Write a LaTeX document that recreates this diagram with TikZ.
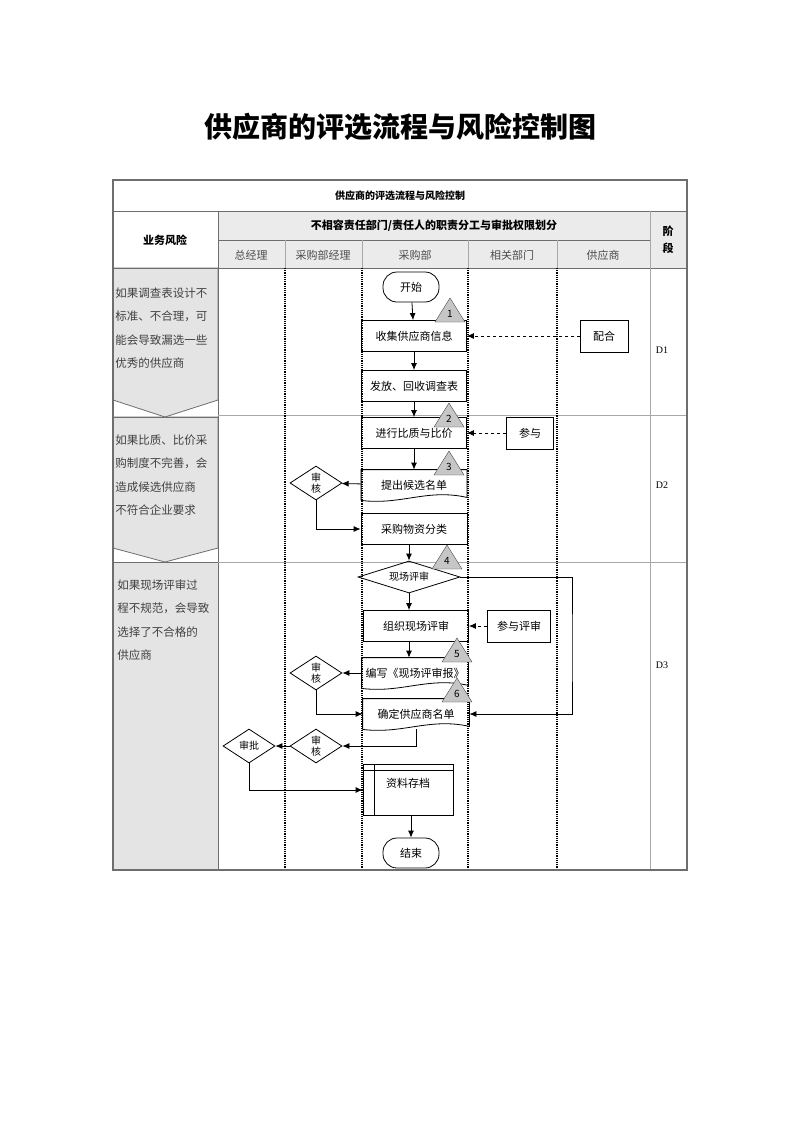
\documentclass[tikz,border=0pt]{standalone}
\usepackage{fontspec}
\setmainfont{Noto Sans CJK SC}
\newfontfamily\dfont{Liberation Serif}
\usetikzlibrary{arrows.meta,shapes.geometric}

\definecolor{cellgray}{HTML}{E4E4E4}
\definecolor{headgray}{HTML}{EBEBEB}
\definecolor{framegray}{HTML}{6E6E6E}
\definecolor{rulegray}{HTML}{A8A8A8}
\definecolor{markgray}{HTML}{C6C6C6}

\begin{document}
\begin{tikzpicture}[x=1pt,y=-1pt,>={Latex[length=7pt,width=6pt]},thick,
    box node/.style={rectangle,draw,inner sep=1pt,minimum width=105pt,minimum height=31pt,font=\fontsize{11}{13}\selectfont},
    doc node/.style={rectangle,inner sep=1pt,minimum width=105pt,minimum height=30pt,font=\fontsize{11}{13}\selectfont},
    end node/.style={rectangle,draw,rounded corners=14pt,minimum width=56pt,minimum height=30pt,font=\fontsize{11}{13}\selectfont},
    check node/.style={diamond,draw,aspect=1.5,inner sep=0pt,minimum width=52pt,minimum height=34pt,align=center,font=\fontsize{10}{11}\selectfont},
    risk text/.style={text width=104pt,align=left,inner sep=0pt,anchor=north west,text=black!75,font=\fontsize{11.5}{23.5}\selectfont},
    head text/.style={text=black!70,font=\fontsize{11}{13}\selectfont},
    mark tri/.style={draw=black!70,fill=markgray,thin},
    lane/.style={densely dotted,line width=1.2pt},
    rule/.style={rulegray,line width=0.8pt}]

  \useasboundingbox (0,0) rectangle (800,1130);

  % title
  \node[font=\bfseries\fontsize{28}{30}\selectfont] (title) at (400,127) {供应商的评选流程与风险控制图};

  % table frame
  \fill[headgray] (218,211) rectangle (687,268);
  \filldraw[fill=cellgray,draw=framegray] (113,268) -- (218,268) -- (218,400) -- (165,417) -- (113,400) -- cycle;
  \filldraw[fill=cellgray,draw=framegray] (113,417) -- (218,417) -- (218,548) -- (165,562) -- (113,548) -- cycle;
  \filldraw[fill=cellgray,draw=framegray] (113,562) rectangle (218,870);
  \draw[framegray] (113,268) rectangle (218,417);
  \draw[framegray] (113,417) rectangle (218,562);
  \draw[framegray] (113,211) -- (687,211);
  \draw[framegray] (113,268) -- (687,268);
  \draw[framegray] (218,240) -- (650,240);
  \draw[framegray] (218,211) -- (218,870);
  \draw[rule] (650,211) -- (650,870);
  \foreach \x in {285,362,468,557}
    \draw[rule] (\x,240) -- (\x,268);
  \draw[rule] (218,415) -- (687,415);
  \draw[rule] (218,562) -- (687,562);
  \foreach \x in {285,362,468,557}
    \draw[lane] (\x,268) -- (\x,870);
  \draw[framegray,line width=1.2pt] (113,180) rectangle (687,870);

  % header texts
  \node[font=\bfseries\fontsize{10}{12}\selectfont] (tbltitle) at (400,196) {供应商的评选流程与风险控制};
  \node[font=\bfseries\fontsize{11}{13}\selectfont] (duty) at (434,226) {不相容责任部门/责任人的职责分工与审批权限划分};
  \node[font=\bfseries\fontsize{11}{13}\selectfont] (risk) at (165,240) {业务风险};
  \node[align=center,font=\bfseries\fontsize{11}{17}\selectfont] (phase) at (668,240) {阶\\段};
  \foreach \x/\t [count=\i] in {251/总经理,323/采购部经理,415/采购部,512/相关部门,603/供应商}
    \node[head text] (col\i) at (\x,255) {\t};

  % risks and phases
  \node[risk text] (risk1) at (115,287) {如果调查表设计不\\标准、不合理，可\\能会导致漏选一些\\优秀的供应商};
  \node[risk text] (risk2) at (115,434) {如果比质、比价采\\购制度不完善，会\\造成候选供应商\\不符合企业要求};
  \node[risk text] (risk3) at (117,579) {如果现场评审过\\程不规范，会导致\\选择了不合格的\\供应商};
  \node[font=\dfont\fontsize{10}{12}\selectfont] (d1) at (662,350) {D1};
  \node[font=\dfont\fontsize{10}{12}\selectfont] (d2) at (662,485) {D2};
  \node[font=\dfont\fontsize{10}{12}\selectfont] (d3) at (662,665) {D3};

  % flow
  \node[end node] (start) at (411,287) {开始};
  \node[box node] (collect) at (414,336) {收集供应商信息};
  \node[box node,minimum width=48pt,minimum height=32pt,node distance=190pt] (offer) [right of=collect] {配合};
  \node[box node] (issue) at (414,386) {发放、回收调查表};
  \node[box node] (compare) at (414,433) {进行比质与比价};
  \node[box node,minimum width=47pt,minimum height=32pt,node distance=116pt] (join) [right of=compare] {参与};
  \node[doc node] (propose) at (414,485) {提出候选名单};
  \node[check node] (check1) at (316,483) {审\\核};
  \node[box node,minimum width=106pt] (classify) at (414,529) {采购物资分类};
  \node[check node,aspect=3.2,minimum width=102pt,minimum height=32pt] (survey) at (409,577) {现场评审};
  \node[box node] (organize) at (416,626) {组织现场评审};
  \node[box node,minimum width=63pt,minimum height=32pt,node distance=103pt] (attend) [right of=organize] {参与评审};
  \node[doc node,minimum width=106pt] (report) at (415,673) {编写《现场评审报》};
  \node[check node] (check2) at (316,673) {审\\核};
  \node[doc node,minimum width=106pt] (confirm) at (416,714) {确定供应商名单};
  \node[check node] (check3) at (316,746) {审\\核};
  \node[check node,node distance=67pt] (approve) [left of=check3] {审批};
  \node[rectangle,draw,minimum width=90pt,minimum height=51pt,text depth=14pt,font=\fontsize{11}{13}\selectfont] (archive) at (408,790) {资料存档};
  \node[end node] (stop) at (411,853) {结束};

  % document bottoms and archive bars
  \foreach \n in {propose,report,confirm}
    \draw (\n.south west) -- (\n.north west) -- (\n.north east) -- ([yshift=3pt]\n.south east)
      .. controls +(-40,-9) and +(40,5) .. (\n.south west);
  \draw ([xshift=12pt]archive.north west) -- ([xshift=12pt]archive.south west);
  \draw ([yshift=-6pt]archive.north west) -- ([yshift=-6pt]archive.north east);

  % step marks
  \foreach \x/\y/\n in {450/322/1,449/427/2,449/475/3,447/569/4,457/662/5,457/702/6} {
    \draw[mark tri] (\x-15,\y) -- (\x,\y-24) -- (\x+15,\y) -- cycle;
    \node[font=\fontsize{10}{12}\selectfont] (m\n) at (\x,\y-8) {\n};
  }

  % connectors
  \coordinate (rtrn) at (572,650);
  \path[->]
    (start) edge (collect)
    (collect) edge (issue)
    (issue) edge (compare)
    (compare) edge (propose)
    (propose) edge (check1)
    (check3) edge (approve)
    (report) edge (check2);
  \path[->,dashed]
    (offer) edge (collect)
    (join) edge (compare)
    (attend) edge (organize);
  \draw[->] (check1.south) |- (classify.west);
  \draw[->] (classify.south -| survey.north) -- (survey.north);
  \draw[->] (survey.south) -- (survey.south |- organize.north);
  \draw[->] (organize.south -| survey.south) -- (survey.south |- report.north);
  \draw[->] (check2.south) |- (confirm.west);
  \draw[->] (survey.east) -| (rtrn) |- (confirm.east);
  \draw[->] (confirm.south) |- (check3.east);
  \draw[->] (approve.south) |- (archive.west);
  \draw[->] (stop.north |- archive.south) -- (stop.north);
\end{tikzpicture}
\end{document}
